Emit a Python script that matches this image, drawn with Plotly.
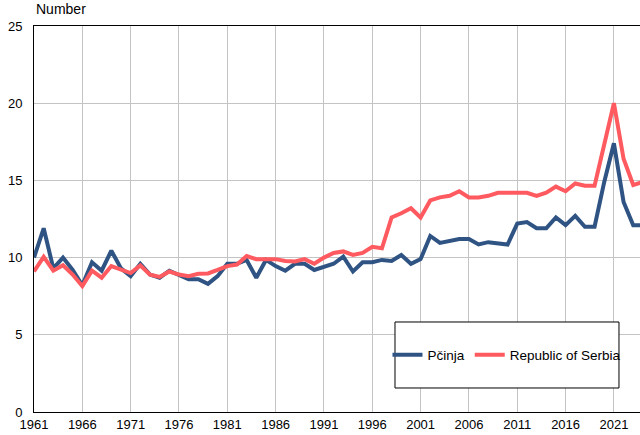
import plotly.graph_objects as go

years = list(range(1961, 2025))

pcinja = [10.0, 11.9, 9.3, 10.0, 9.2, 8.2, 9.7, 9.15, 10.45, 9.3,
          8.8, 9.6, 8.9, 8.7, 9.15, 8.9, 8.6, 8.6, 8.3, 8.8,
          9.6, 9.6, 9.85, 8.7, 9.85, 9.45, 9.15, 9.6, 9.6, 9.2,
          9.4, 9.6, 10.06, 9.1, 9.7, 9.7, 9.85, 9.78, 10.17, 9.6,
          9.9, 11.4, 10.95, 11.1, 11.2, 11.2, 10.85, 11.0, 10.95, 10.85,
          12.2, 12.3, 11.9, 11.9, 12.6, 12.1, 12.7, 12.0, 12.0, 14.9,
          17.4, 13.6, 12.1, 12.1]

serbia = [9.1, 10.05, 9.15, 9.5, 8.9, 8.15, 9.15, 8.7, 9.45, 9.25,
          9.0, 9.5, 8.9, 8.75, 9.1, 8.9, 8.8, 8.95, 8.97, 9.2,
          9.45, 9.55, 10.1, 9.9, 9.9, 9.9, 9.78, 9.75, 9.9, 9.6,
          10.0, 10.3, 10.4, 10.17, 10.3, 10.7, 10.6, 12.6, 12.87, 13.2,
          12.6, 13.7, 13.9, 14.0, 14.3, 13.9, 13.9, 14.0, 14.2, 14.2,
          14.2, 14.2, 14.0, 14.2, 14.6, 14.3, 14.8, 14.65, 14.65, 17.2,
          20.0, 16.4, 14.7, 14.9]

series_names = ["Pčinja", "Republic of Serbia"]
colors = ["#2f5383", "#ff5a5f"]
x_ticks = list(range(1961, 2022, 5))
y_ticks = [0, 5, 10, 15, 20, 25]
y_title = "Number"

fig = go.Figure()
for name, vals, col in zip(series_names, [pcinja, serbia], colors):
    fig.add_trace(go.Scatter(x=years, y=vals, name=name, mode="lines",
                             line=dict(color=col, width=4)))

font = dict(family="Liberation Sans, Arial, sans-serif", size=13, color="#000000")
legend_font = dict(family="Liberation Sans, Arial, sans-serif", size=13.5, color="#000000")

fig.update_layout(
    width=640, height=435, autosize=False,
    margin=dict(l=34, r=0, t=26, b=23, pad=0),
    paper_bgcolor="white", plot_bgcolor="white",
    font=font,
    showlegend=True,
    legend=dict(orientation="h", x=0.7805, y=0.1477, xanchor="center", yanchor="middle",
                bgcolor="rgba(0,0,0,0)", borderwidth=0, font=legend_font),
    shapes=[dict(type="rect", xref="paper", yref="paper",
                 x0=0.5957, x1=0.9653, y0=0.0622, y1=0.2332,
                 line=dict(color="black", width=1), fillcolor="white", layer="above")],
    annotations=[dict(text=y_title, xref="paper", yref="paper", x=0, y=1,
                      xanchor="left", yanchor="middle", yshift=17, showarrow=False,
                      font=dict(family="Liberation Sans, Arial, sans-serif", size=14, color="#000"))],
)

fig.update_xaxes(range=[1961, 2023.7], tickvals=x_ticks, ticktext=[str(t) for t in x_ticks],
                 showgrid=True, gridcolor="#c4c4c4", gridwidth=1,
                 showline=True, linecolor="black", linewidth=1, mirror=True,
                 ticks="", zeroline=False, tickfont=font)
fig.update_yaxes(range=[0, 25], tickvals=y_ticks,
                 showgrid=True, gridcolor="#c4c4c4", gridwidth=1,
                 showline=True, linecolor="black", linewidth=1,
                 ticks="", zeroline=False, tickfont=font, ticklabelstandoff=8)

fig.write_html("out.html", config={"displayModeBar": False},
               post_script="document.body.style.margin='0px';document.body.style.overflow='hidden';")
